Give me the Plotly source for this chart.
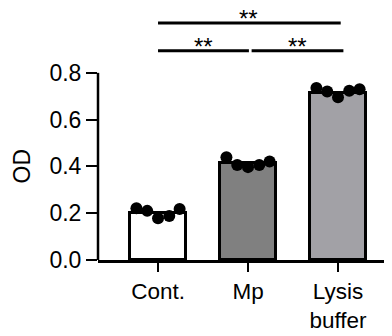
import plotly.graph_objects as go

categories = ["Cont.", "Mp", "Lysis<br>buffer"]
bar_means = [0.202, 0.414, 0.713]
bar_colors = ["#ffffff", "#808080", "#a2a1a6"]
points = [
    [0.221, 0.210, 0.178, 0.188, 0.218],
    [0.439, 0.406, 0.397, 0.406, 0.421],
    [0.735, 0.720, 0.696, 0.723, 0.730],
]
jitter = [-0.24, -0.12, 0.0, 0.125, 0.24]
y_ticks = [0.0, 0.2, 0.4, 0.6, 0.8]
y_ticktext = ["0.0", "0.2", "0.4", "0.6", "0.8"]
sig_label = "**"

FONT = "Liberation Sans, Arial, sans-serif"
xpos = list(range(len(categories)))

fig = go.Figure()
fig.add_trace(go.Bar(
    x=xpos, y=bar_means, width=0.625,
    marker=dict(color=bar_colors, line=dict(color="black", width=3)),
    showlegend=False, hoverinfo="skip",
))
for i, vals in enumerate(points):
    fig.add_trace(go.Scatter(
        x=[i + j for j in jitter], y=vals, mode="markers",
        marker=dict(color="black", size=12, line=dict(width=0)),
        showlegend=False, cliponaxis=False,
    ))

# y axis line from 0 to 0.8
fig.add_shape(type="line", xref="paper", yref="y", x0=0, x1=0, y0=0, y1=0.8,
              line=dict(color="black", width=2.5))
# significance bars
sig_lines = [(0, 2.03, 1.013), (0, 1.01, 0.894), (1.04, 2.06, 0.894)]
for x0, x1, yv in sig_lines:
    fig.add_shape(type="line", xref="x", yref="y", x0=x0, x1=x1, y0=yv, y1=yv,
                  line=dict(color="black", width=3))
sig_text = [(1.01, 1.033), (0.5, 0.912), (1.55, 0.912)]
for xv, yv in sig_text:
    fig.add_annotation(x=xv, y=yv, xref="x", yref="y", text=sig_label, showarrow=False,
                       yanchor="middle", xanchor="center",
                       font=dict(family=FONT, size=24, color="black"))

fig.add_annotation(x=(14 - 90) / 294, y=0.4, xref="paper", yref="y", text="OD",
                   textangle=-90, showarrow=False, xanchor="center", yanchor="middle",
                   font=dict(family=FONT, size=23, color="black"))

fig.update_layout(
    template="none",
    width=384, height=328,
    margin=dict(l=90, r=0, t=0, b=75.5, pad=0),
    paper_bgcolor="white", plot_bgcolor="white",
    font=dict(family=FONT, size=23, color="black"),
    bargap=0,
    xaxis=dict(
        range=[-0.667, 2.6], tickvals=xpos, ticktext=categories, automargin=False,
        showline=True, linecolor="black", linewidth=2.5,
        ticks="outside", ticklen=9, tickwidth=2, tickcolor="black",
        showgrid=False, zeroline=False, tickfont=dict(size=22.5),
    ),
    yaxis=dict(
        range=[0, 1.0772], tickvals=y_ticks, ticktext=y_ticktext, automargin=False,
        showline=False, ticks="outside", ticklen=11, tickwidth=2, tickcolor="black",
        showgrid=False, zeroline=False, tickfont=dict(size=23),
    ),
)

fig.write_html("out.html")
